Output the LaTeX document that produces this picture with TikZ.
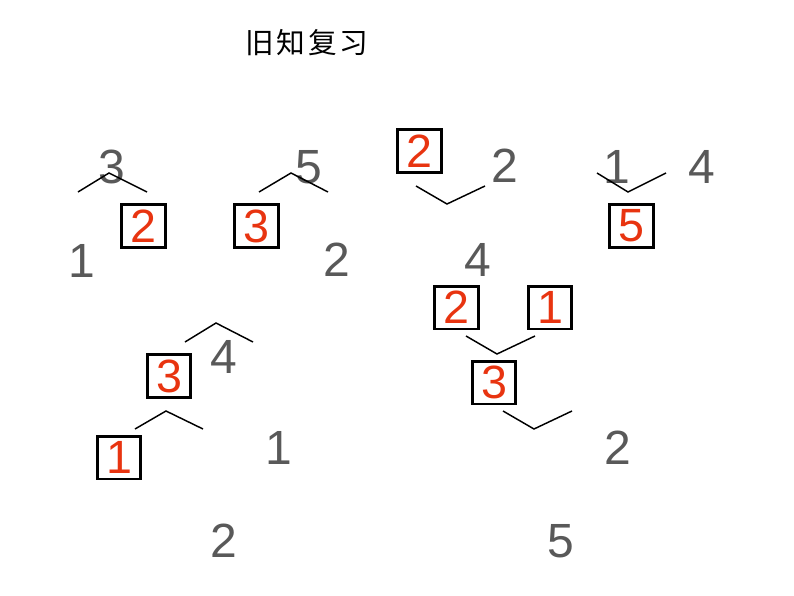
\documentclass[tikz,border=0pt]{standalone}
\usepackage{fontspec}
\setmainfont{Liberation Sans}
\newfontfamily\cjk[LetterSpace=10]{Noto Sans CJK SC}
\definecolor{numgray}{RGB}{89,89,89}
\definecolor{numred}{RGB}{232,52,16}
\tikzstyle{num} = [text=numgray, inner sep=0pt,
    font=\fontsize{36}{36}\selectfont]
\tikzstyle{ansbox} = [draw=black, line width=2.2pt, text=numred, inner sep=0pt,
    minimum width=32.6pt, minimum height=32.2pt, font=\fontsize{35}{35}\selectfont]
\tikzstyle{branch} = [draw=black, line width=1.1pt]
\begin{document}
\begin{tikzpicture}[x=0.75pt, y=-0.75pt]
\useasboundingbox (0,0) rectangle (794,596);
\node[font=\cjk\fontsize{21.5}{21.5}\selectfont] (title) at (307,43) {旧知复习};
% first row
\node[num] (top1) at (112,167) {3};
\node[ansbox] (box1) at (143.5,226) {2};
\node[num] (low1) at (82,261) {1};
\coordinate (l1) at (78,192); \coordinate (a1) at (109,173); \coordinate (r1) at (147,192);
\draw[branch] (l1) -- (a1) -- (r1);
\node[num] (top2) at (309,167) {5};
\node[ansbox] (box2) at (256.5,226) {3};
\node[num] (low2) at (337,260) {2};
\coordinate (l2) at (259,192); \coordinate (a2) at (291,173); \coordinate (r2) at (328,192);
\draw[branch] (l2) -- (a2) -- (r2);
\node[ansbox] (box3) at (419.5,151) {2};
\node[num] (top3) at (505,166) {2};
\node[num] (low3) at (478,260) {4};
\coordinate (l3) at (416,186); \coordinate (a3) at (447,204); \coordinate (r3) at (485,186);
\draw[branch] (l3) -- (a3) -- (r3);
\node[num] (top4) at (617,167) {1};
\node[num] (side4) at (702,167) {4};
\node[ansbox] (box4) at (631.5,226) {5};
\coordinate (l4) at (597,173); \coordinate (a4) at (628,192); \coordinate (r4) at (666,173);
\draw[branch] (l4) -- (a4) -- (r4);
% second row
\node[num] (top5) at (224,357) {4};
\node[ansbox] (box5) at (169,376) {3};
\node[ansbox] (box6) at (119,457.5) {1};
\node[num] (side5) at (279,448) {1};
\node[num] (low5) at (224,541) {2};
\coordinate (l5) at (185,342); \coordinate (a5) at (216,323); \coordinate (r5) at (253,342);
\draw[branch] (l5) -- (a5) -- (r5);
\coordinate (l6) at (135,429); \coordinate (a6) at (166,411); \coordinate (r6) at (203,429);
\draw[branch] (l6) -- (a6) -- (r6);
\node[ansbox] (box7) at (456.5,307.5) {2};
\node[ansbox] (box8) at (550,307.5) {1};
\node[ansbox] (box9) at (494,382.5) {3};
\node[num] (side6) at (618,448) {2};
\node[num] (low6) at (561,541) {5};
\coordinate (l7) at (466,336); \coordinate (a7) at (497,354); \coordinate (r7) at (535,336);
\draw[branch] (l7) -- (a7) -- (r7);
\coordinate (l8) at (503,411); \coordinate (a8) at (534,429); \coordinate (r8) at (572,411);
\draw[branch] (l8) -- (a8) -- (r8);
\end{tikzpicture}
\end{document}
